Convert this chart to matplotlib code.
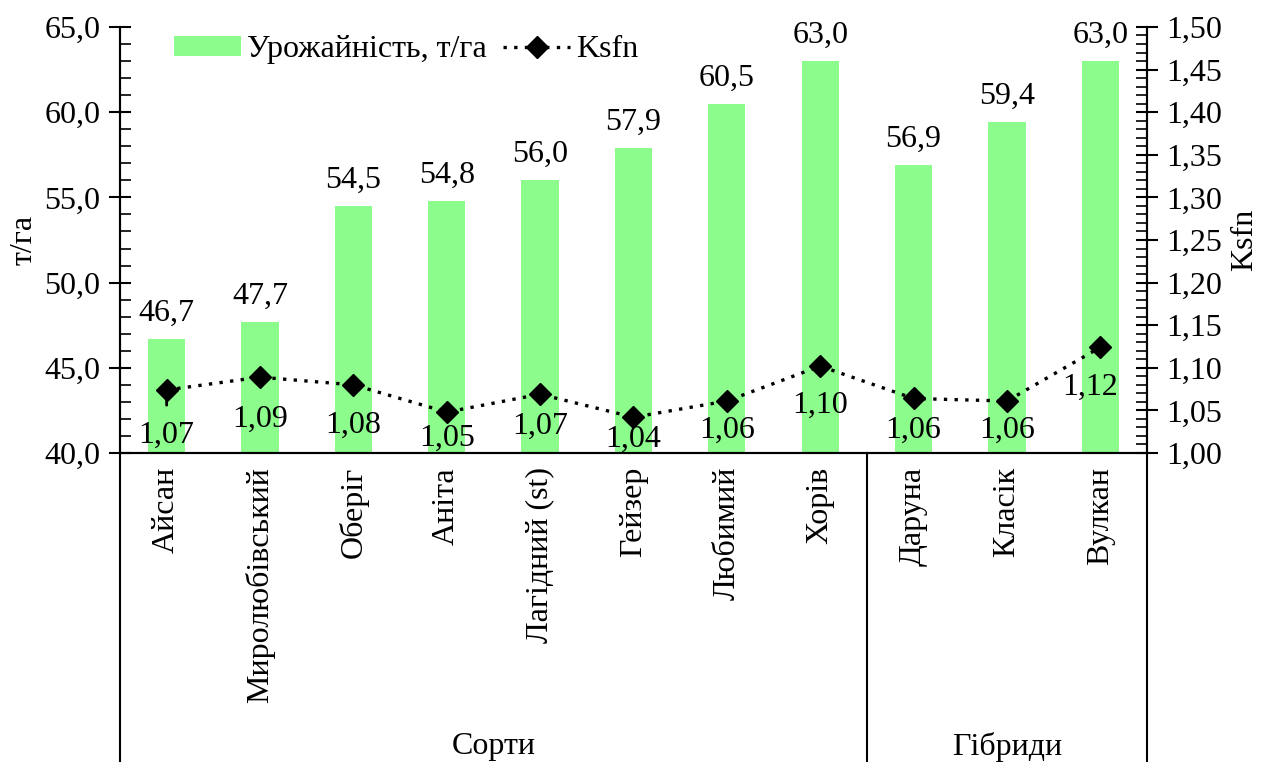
import matplotlib
matplotlib.use('Agg')
from matplotlib import pyplot as plt
from matplotlib.ticker import MultipleLocator, FuncFormatter
from matplotlib.lines import Line2D

plt.rcParams['font.family'] = ['Liberation Serif', 'DejaVu Serif']
plt.rcParams['font.size'] = 23

# сорти та гібриди
varieties = ['Айсан', 'Миролюбівський', 'Оберіг', 'Аніта', 'Лагідний (st)', 'Гейзер',
             'Любимий', 'Хорів', 'Даруна', 'Класік', 'Вулкан']
groups = ['Сорти', 'Гібриди']
group_sizes = [8, 3]
yield_t_ha = [46.7, 47.7, 54.5, 54.8, 56.0, 57.9, 60.5, 63.0, 56.9, 59.4, 63.0]
ksfn = [1.074, 1.089, 1.080, 1.048, 1.069, 1.042, 1.061, 1.102, 1.064, 1.061, 1.124]

# зсув підписів Ksfn вниз (пункти)
ksfn_label_dy = [-33, -30, -29, -19, -23, -16, -21, -28, -23, -21, -29]

bar_color = '#8CFC8C'

fig = plt.figure(figsize=(12.64, 7.62), dpi=100)
ax = fig.add_axes([0.0949, 0.4055, 0.8125, 0.5591])
ax2 = ax.twinx()

x = list(range(len(varieties)))
bars = ax.bar(x, yield_t_ha, width=0.4, color=bar_color, label='Урожайність, т/га', zorder=1)
for xi, v in zip(x, yield_t_ha):
    ax.annotate('{:.1f}'.format(v).replace('.', ','), (xi, v), xytext=(0, 8),
                textcoords='offset points', ha='center', va='bottom')

line, = ax2.plot(x, ksfn, linestyle=(0, (1, 2.2)), linewidth=2.4, color='black', marker='D',
                 markersize=11, label='Ksfn', zorder=3)
for xi, v, dy in zip(x, ksfn, ksfn_label_dy):
    dx = -7 if xi == len(x) - 1 else 0
    ax2.annotate('{:.2f}'.format(v).replace('.', ','), (xi, v), xytext=(dx, dy),
                 textcoords='offset points', ha='center', va='center')
# виносна лінія під першою точкою
ax2.annotate('', (0, ksfn[0]), xytext=(0, -13), textcoords='offset points',
             arrowprops=dict(arrowstyle='-', color='black', lw=2))

ax.set_xlim(-0.5, len(x) - 0.5)
ax.set_ylim(40, 65)
ax2.set_ylim(1.0, 1.5)

ax.yaxis.set_major_locator(MultipleLocator(5))
ax.yaxis.set_minor_locator(MultipleLocator(1))
ax.yaxis.set_major_formatter(FuncFormatter(lambda v, p: '{:.1f}'.format(v).replace('.', ',')))
ax2.yaxis.set_major_locator(MultipleLocator(0.05))
ax2.yaxis.set_minor_locator(MultipleLocator(0.01))
ax2.yaxis.set_major_formatter(FuncFormatter(lambda v, p: '{:.2f}'.format(v).replace('.', ',')))

ax.tick_params(axis='y', which='major', direction='inout', length=16, width=1.5, pad=6)
ax.tick_params(axis='y', which='minor', direction='in', length=8, width=1.2)
ax2.tick_params(axis='y', which='major', direction='inout', length=16, width=1.5, pad=6)
ax2.tick_params(axis='y', which='minor', direction='in', length=8, width=1.2)

ax.set_xticks(x)
ax.set_xticklabels(varieties, rotation=90, va='top')
ax.tick_params(axis='x', length=0, pad=10)

for a in (ax, ax2):
    a.spines['top'].set_visible(False)
    for s in ('left', 'right', 'bottom'):
        a.spines[s].set_linewidth(1.5)

ax.set_ylabel('т/га', labelpad=4)
ax2.set_ylabel('Ksfn', labelpad=6)

# розділювачі груп під віссю X
bounds = [0]
for n in group_sizes:
    bounds.append(bounds[-1] + n)
trans = ax.get_xaxis_transform()
for b in bounds:
    ax.add_line(Line2D([b - 0.5, b - 0.5], [0, -0.75], transform=trans, color='black',
                       lw=1.5, clip_on=False))
for g, b0, b1 in zip(groups, bounds[:-1], bounds[1:]):
    ax.text((b0 + b1 - 1) / 2, -0.69, g, transform=trans, ha='center', va='center')

ax.legend([bars, line], ['Урожайність, т/га', 'Ksfn'], loc='upper left', ncol=2,
          frameon=False, bbox_to_anchor=(0.04, 1.01), handlelength=2.1, handleheight=0.6,
          handletextpad=0.2, columnspacing=0.5, borderaxespad=0)

fig.savefig('out.png', dpi=100)
